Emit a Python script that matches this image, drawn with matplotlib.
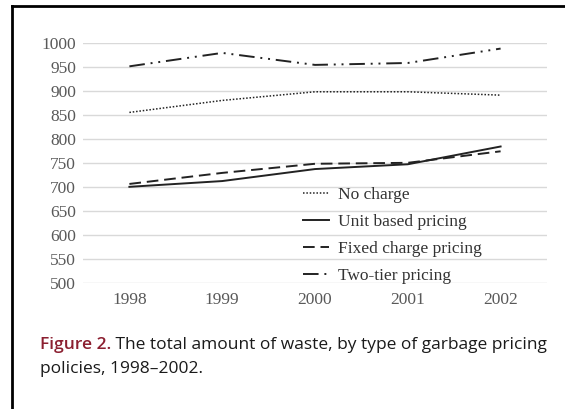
import matplotlib
matplotlib.use("Agg")
import matplotlib.pyplot as plt
from matplotlib.lines import Line2D

# --- data ---
years = [1998, 1999, 2000, 2001, 2002]
no_charge = [856, 881, 899, 899, 892]
unit_based = [701, 713, 738, 748, 785]
fixed_charge = [707, 730, 749, 751, 775]
two_tier = [952, 980, 955, 959, 989]
y_ticks = [500, 550, 600, 650, 700, 750, 800, 850, 900, 950, 1000]

plt.rcParams["font.family"] = ["Liberation Serif", "DejaVu Serif"]

W, H = 565, 409
fig = plt.figure(figsize=(W / 100, H / 100), dpi=100)
ax = fig.add_axes([83 / W, 1 - 283.3 / H, (547 - 83) / W, 240 / H])

ax.plot(years, no_charge, color="#222222", lw=1.1, ls=(0, (1, 1.2)), label="No charge")
ax.plot(years, unit_based, color="#222222", lw=1.4, ls="-", label="Unit based pricing")
ax.plot(years, fixed_charge, color="#222222", lw=1.4, ls=(0, (6, 3)), label="Fixed charge pricing")
ax.plot(years, two_tier, color="#222222", lw=1.4, ls=(0, (8, 3, 1, 3, 1, 3)), label="Two-tier pricing")

ax.set_xlim(1997.5, 2002.5)
ax.set_ylim(500, 1000)
ax.set_yticks(y_ticks)
ax.set_xticks(years)
ax.grid(axis="y", color="#d9d9d9", lw=1.0)
ax.set_axisbelow(True)
for s in ax.spines.values():
    s.set_visible(False)
ax.tick_params(length=0, labelsize=12.5, labelcolor="#595959", pad=5)
ax.tick_params(axis="x", pad=6)

leg = ax.legend(loc="upper left", bbox_to_anchor=(0.474, 0.40), frameon=False,
                prop={"size": 12.5}, handlelength=1.5,
                handletextpad=0.5, labelspacing=0.62, borderpad=0, borderaxespad=0)
for t in leg.get_texts():
    t.set_color("#333333")

# caption (sans-serif, first words in dark red)
cap_font = "Open Sans"
t1 = fig.text(40 / W, 1 - 349 / H, "Figure 2.", color="#8b1f30", fontsize=12.5,
              family=cap_font, fontweight="semibold", va="baseline")
fig.canvas.draw()
bb = t1.get_window_extent()
fig.text(bb.x1 / W, 1 - 349 / H, " The total amount of waste, by type of garbage pricing",
         fontsize=12.5, family=cap_font, color="#1a1a1a", va="baseline")
fig.text(40 / W, 1 - 373 / H, "policies, 1998\u20132002.", fontsize=12.5,
         family=cap_font, color="#1a1a1a", va="baseline")

# box frame around the figure
fig.add_artist(Line2D([12 / W, 12 / W], [0, 1 - 6 / H], color="black", lw=2.0,
                      transform=fig.transFigure))
fig.add_artist(Line2D([12 / W, 1], [1 - 6 / H, 1 - 6 / H], color="black", lw=2.0,
                      transform=fig.transFigure))

fig.savefig("out.png", dpi=100)
